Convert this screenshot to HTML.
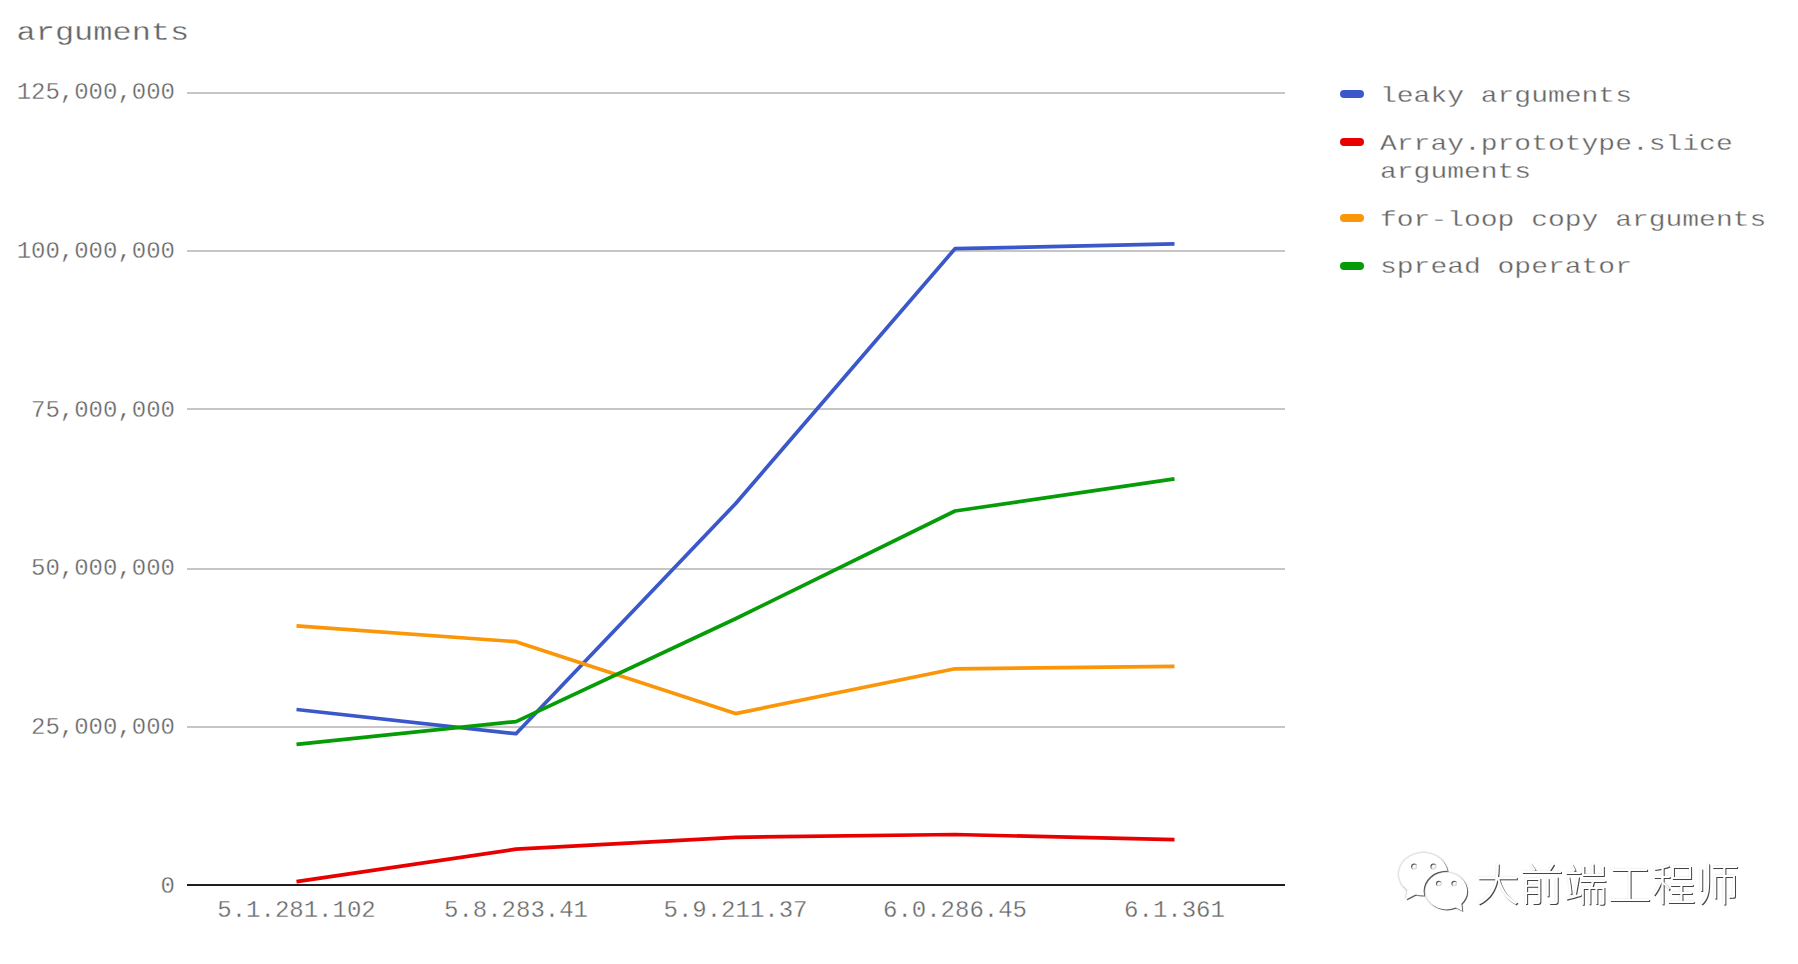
<!DOCTYPE html>
<html lang="en">
<head>
<meta charset="utf-8">
<title>arguments</title>
<style>
html,body{margin:0;padding:0;background:#fff;}
body{width:1798px;height:964px;overflow:hidden;position:relative;}
svg{display:block;position:absolute;left:0;top:0;}
text{font-family:"Liberation Mono",monospace;fill:#656565;stroke:#fff;stroke-width:.35px;paint-order:fill stroke;}
.t{font-size:32px;}
.a{font-size:24px;}
.l{font-size:28px;}
.g{stroke:#c6c6c6;stroke-width:2;}
.s{fill:none;stroke-width:3.7;stroke-linejoin:round;stroke-linecap:butt;}
.wm{stroke:none;font-family:"Liberation Sans","Noto Sans CJK SC",sans-serif;font-weight:300;font-size:44px;fill:#fff;}
</style>
</head>
<body>
<svg width="1798" height="964" viewBox="0 0 1798 964">
<defs>
<filter id="ds" x="1385" y="840" width="95" height="85" filterUnits="userSpaceOnUse" color-interpolation-filters="sRGB">
<feGaussianBlur in="SourceAlpha" stdDeviation="0.9" result="b1"/>
<feComponentTransfer in="b1" result="g1"><feFuncA type="linear" slope="0.38"/></feComponentTransfer>
<feGaussianBlur in="SourceAlpha" stdDeviation="0.6" result="b2"/>
<feOffset in="b2" dx="1" dy="1" result="o2"/>
<feComponentTransfer in="o2" result="g2"><feFuncA type="linear" slope="0.6"/></feComponentTransfer>
<feMerge><feMergeNode in="g1"/><feMergeNode in="g2"/><feMergeNode in="SourceGraphic"/></feMerge>
</filter>
<filter id="dt" x="1470" y="845" width="290" height="80" filterUnits="userSpaceOnUse" color-interpolation-filters="sRGB">
<feGaussianBlur in="SourceAlpha" stdDeviation="1.2" result="b1"/>
<feComponentTransfer in="b1" result="g1"><feFuncA type="linear" slope="0.12"/></feComponentTransfer>
<feGaussianBlur in="SourceAlpha" stdDeviation="0.55" result="b2"/>
<feOffset in="b2" dx="1" dy="1" result="o2"/>
<feComponentTransfer in="o2" result="g2"><feFuncA type="linear" slope="0.72"/></feComponentTransfer>
<feMerge><feMergeNode in="g1"/><feMergeNode in="g2"/><feMergeNode in="SourceGraphic"/></feMerge>
</filter>
<mask id="m1" maskUnits="userSpaceOnUse" x="1390" y="845" width="90" height="75">
<rect x="1390" y="845" width="90" height="75" fill="#fff"/>
<ellipse cx="1446.3" cy="891" rx="22.7" ry="20.3" fill="#000"/>
<circle cx="1414.1" cy="866.4" r="3" fill="#000"/>
<circle cx="1433.4" cy="866.4" r="3" fill="#000"/>
</mask>
<mask id="m2" maskUnits="userSpaceOnUse" x="1390" y="845" width="90" height="75">
<rect x="1390" y="845" width="90" height="75" fill="#fff"/>
<circle cx="1438.8" cy="883.5" r="2.8" fill="#000"/>
<circle cx="1454.2" cy="883.5" r="2.8" fill="#000"/>
</mask>
</defs>
<rect width="1798" height="964" fill="#fff"/>
<text class="t" transform="translate(16.5 39.6) scale(1 0.82)">arguments</text>
<!-- gridlines -->
<g class="g">
<line x1="187" x2="1285" y1="93" y2="93"/>
<line x1="187" x2="1285" y1="251" y2="251"/>
<line x1="187" x2="1285" y1="409" y2="409"/>
<line x1="187" x2="1285" y1="569" y2="569"/>
<line x1="187" x2="1285" y1="727" y2="727"/>
</g>
<!-- y labels -->
<g class="a" text-anchor="end">
<text transform="translate(175 99) scale(1 0.96)">125,000,000</text>
<text transform="translate(175 258) scale(1 0.96)">100,000,000</text>
<text transform="translate(175 417) scale(1 0.96)">75,000,000</text>
<text transform="translate(175 575) scale(1 0.96)">50,000,000</text>
<text transform="translate(175 734) scale(1 0.96)">25,000,000</text>
<text transform="translate(175 893) scale(1 0.96)">0</text>
</g>
<!-- series -->
<polyline class="s" stroke="#3a58c9" points="296.5,709.5 516,733.7 735.5,503.7 955,248.7 1174.5,243.8"/>
<polyline class="s" stroke="#e80000" points="296.5,881.7 516,849.2 735.5,837.3 955,834.5 1174.5,839.7"/>
<polyline class="s" stroke="#fa9608" points="296.5,625.8 516,641.7 735.5,713.6 955,668.8 1174.5,666.3"/>
<polyline class="s" stroke="#069c08" points="296.5,744.3 516,721.6 735.5,618.8 955,511 1174.5,478.8"/>
<!-- baseline -->
<line x1="187" x2="1285" y1="885" y2="885" stroke="#1e1e1e" stroke-width="2"/>
<!-- x labels -->
<g class="a" text-anchor="middle">
<text transform="translate(296.5 917.3) scale(1 0.96)">5.1.281.102</text>
<text transform="translate(516 917.3) scale(1 0.96)">5.8.283.41</text>
<text transform="translate(735.5 917.3) scale(1 0.96)">5.9.211.37</text>
<text transform="translate(955 917.3) scale(1 0.96)">6.0.286.45</text>
<text transform="translate(1174.5 917.3) scale(1 0.96)">6.1.361</text>
</g>
<!-- legend -->
<rect x="1340" y="90" width="24" height="8" rx="4" fill="#3a58c9"/>
<rect x="1340" y="138" width="24" height="8" rx="4" fill="#e80000"/>
<rect x="1340" y="214" width="24" height="8" rx="4" fill="#fa9608"/>
<rect x="1340" y="262" width="24" height="8" rx="4" fill="#069c08"/>
<g class="l">
<text transform="translate(1380 101.7) scale(1 0.82)">leaky arguments</text>
<text transform="translate(1380 149.6) scale(1 0.82)">Array.prototype.slice</text>
<text transform="translate(1380 177.6) scale(1 0.82)">arguments</text>
<text transform="translate(1380 225.7) scale(1 0.82)">for-loop copy arguments</text>
<text transform="translate(1380 273.4) scale(1 0.82)">spread operator</text>
</g>
<!-- watermark -->
<g filter="url(#ds)">
<g mask="url(#m1)" fill="#fff">
<ellipse cx="1423.4" cy="874.2" rx="24.5" ry="21.4"/>
<polygon points="1407.3,889.5 1405.9,899.4 1417.5,893.6"/>
</g>
<g mask="url(#m2)" fill="#fff">
<ellipse cx="1446.3" cy="891" rx="20.9" ry="18.5"/>
<polygon points="1461.3,903 1462.3,911.1 1453.8,906.6"/>
</g>
</g>
<text class="wm" x="1475.5" y="900.7" filter="url(#dt)">大前端工程师</text>
</svg>
</body>
</html>
